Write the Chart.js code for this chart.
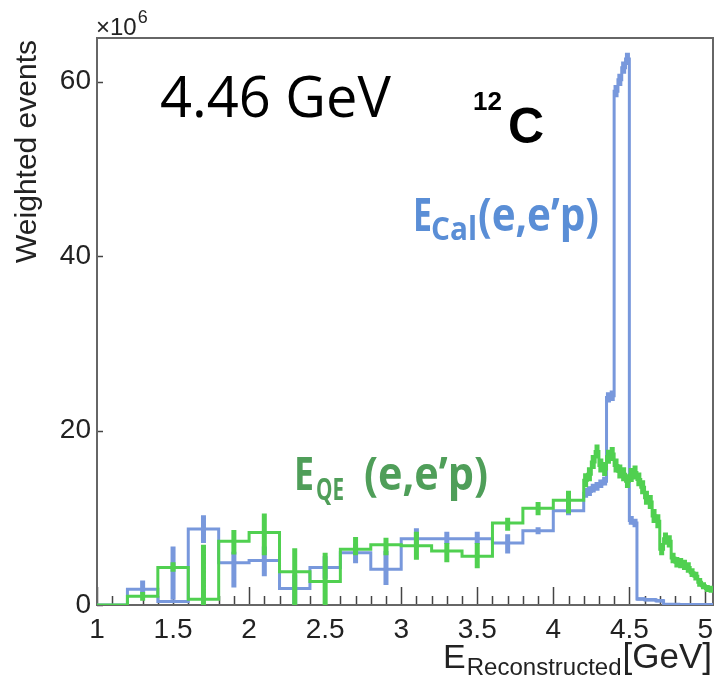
<!DOCTYPE html>
<html>
<head>
<meta charset="utf-8">
<script src="https://cdn.jsdelivr.net/npm/chart.js@4.4.1/dist/chart.umd.min.js"></script>
<style>
  html, body { margin: 0; padding: 0; background: #fff; }
  canvas { display: block; }
</style>
</head>
<body>
<canvas id="histChart" width="715" height="679"></canvas>
<script>
// bin edges in GeV: 0.2 GeV bins up to 4.2, then 0.025 GeV bins
const binEdges = [1.0, 1.2, 1.4, 1.6, 1.8, 2.0, 2.2, 2.4, 2.6, 2.8, 3.0, 3.2, 3.4, 3.6, 3.8, 4.0, 4.2,
  4.225, 4.25, 4.275, 4.3, 4.325, 4.35, 4.375, 4.4, 4.425, 4.45, 4.475, 4.5, 4.525, 4.55, 4.575, 4.6,
  4.625, 4.65, 4.675, 4.7, 4.725, 4.75, 4.775, 4.8, 4.825, 4.85, 4.875, 4.9, 4.925, 4.95, 4.975, 5.0,
  5.025, 5.05];

// E_Cal (e,e'p), x10^6 weighted events
const blueValues = [0, 1.8, 0.4, 8.7, 4.85, 5.1, 1.9, 4.3, 6.0, 4.1, 7.6, 7.6, 7.6, 7.1, 8.5, 10.8,
  12.8, 13.0, 13.4, 13.6, 13.9, 14.2, 23.8, 24.0, 58.9, 60.2, 61.6, 62.6, 9.7, 9.4,
  0.7, 0.7, 0.6, 0.6, 0.6, 0.5, 0.5, 0.1, 0.1, 0.1, 0.1,
  0.05, 0.05, 0.05, 0.05, 0.05, 0.05, 0.05, 0.05, 0.05];
const blueErrLo = [0, 1.3, 0.6, 7.1, 2.0, 3.3, 0, 3.0, 4.8, 2.3, 7.0, 7.0, 7.0, 5.9, 8.1, 10.3,
  12.3, 12.5, 12.9, 13.1, 13.4, 13.7, 23.2, 23.4, 58.2, 59.5, 60.9, 61.9, 9.2, 8.9,
  0.5, 0.5, 0.4, 0.4, 0.4, 0.3, 0.3, 0, 0, 0, 0,
  0, 0, 0, 0, 0, 0, 0, 0, 0];
const blueErrHi = [0, 2.8, 6.7, 10.3, 6.1, 6.7, 3.5, 5.6, 7.0, 6.2, 8.8, 8.4, 8.4, 8.1, 8.9, 11.2,
  13.4, 13.6, 13.9, 14.1, 14.4, 14.7, 24.4, 24.6, 59.6, 60.9, 62.3, 63.3, 10.2, 9.9,
  0.9, 0.9, 0.8, 0.8, 0.8, 0.7, 0.7, 0.2, 0.2, 0.2, 0.2,
  0.1, 0.1, 0.1, 0.1, 0.1, 0.1, 0.1, 0.1, 0.1];

// E_QE (e,e'p)
const greenValues = [0, 1.0, 4.3, 0.65, 7.3, 8.3, 3.8, 2.7, 6.4, 6.9, 6.8, 6.2, 5.6, 9.4, 11.1, 12.0,
  14.3, 15.0, 16.4, 17.6, 16.0, 15.6, 17.0, 17.3, 16.0, 15.3, 15.0, 14.2, 14.9, 15.2, 14.4,
  13.5, 12.3, 11.8, 10.2, 9.6, 6.4, 7.6, 7.3, 5.4, 4.9, 4.8, 4.6, 4.3, 3.7, 3.3, 2.6, 2.2, 1.9, 1.8];
const greenErrLo = [0, 0.5, 3.8, 0, 5.8, 5.7, 0, 0, 5.7, 5.7, 5.2, 4.9, 4.2, 8.5, 10.3, 10.5,
  13.5, 14.2, 15.6, 16.8, 15.2, 14.8, 16.2, 16.5, 15.2, 14.5, 14.2, 13.4, 14.1, 14.4, 13.6,
  12.7, 11.5, 11.0, 9.4, 8.8, 5.7, 6.9, 6.6, 4.8, 4.3, 4.2, 4.0, 3.7, 3.2, 2.8, 2.1, 1.8, 1.5, 1.4];
const greenErrHi = [0, 1.5, 4.9, 6.9, 8.6, 10.5, 6.5, 6.0, 7.8, 7.7, 8.4, 7.1, 7.1, 10.0, 11.8, 13.1,
  15.1, 15.8, 17.2, 18.4, 16.8, 16.4, 17.8, 18.1, 16.8, 16.1, 15.8, 15.0, 15.7, 16.0, 15.2,
  14.3, 13.1, 12.6, 11.0, 10.4, 7.1, 8.3, 8.0, 6.0, 5.5, 5.4, 5.2, 4.9, 4.2, 3.8, 3.1, 2.6, 2.3, 2.2];

const xTicks = [1, 1.5, 2, 2.5, 3, 3.5, 4, 4.5, 5];
const yTicks = [0, 20, 40, 60];

const blueColor = "#7898dc";
const greenColor = "#50d050";

function histPoints(values) {
  const pts = values.map((v, i) => ({ x: binEdges[i], y: v }));
  pts.push({ x: binEdges[values.length], y: values[values.length - 1] });
  return pts;
}

function errPoints(lo, hi) {
  const pts = [];
  lo.forEach((l, i) => {
    const c = (binEdges[i] + binEdges[i + 1]) / 2;
    pts.push({ x: c, y: l }, { x: c, y: hi[i] }, { x: c, y: null });
  });
  return pts;
}

// draws text and returns its width
function putText(ctx, str, x, y, font, color, align, maxWidth) {
  ctx.font = font;
  ctx.fillStyle = color;
  ctx.textAlign = align || "left";
  ctx.textBaseline = "alphabetic";
  if (maxWidth) ctx.fillText(str, x, y, maxWidth);
  else ctx.fillText(str, x, y);
  const w = ctx.measureText(str).width;
  return maxWidth ? Math.min(w, maxWidth) : w;
}

// frame + inner ticks (ROOT style) and the labels on the pad
const rootFrame = {
  id: "rootFrame",
  beforeDatasetsDraw(chart) {
    const { ctx, chartArea: a, scales: { x, y } } = chart;
    ctx.save();
    ctx.strokeStyle = "#444";
    ctx.lineWidth = 1.5;
    ctx.beginPath();
    for (let i = 10; i <= 50; i++) {
      const px = Math.round(x.getPixelForValue(i / 10)) + 0.5;
      const len = i % 5 === 0 ? 18 : 9;
      ctx.moveTo(px, a.bottom);
      ctx.lineTo(px, a.bottom - len);
    }
    yTicks.forEach((t) => {
      const py = Math.round(y.getPixelForValue(t)) + 0.5;
      ctx.moveTo(a.left, py);
      ctx.lineTo(a.left + 6, py);
    });
    ctx.stroke();
    ctx.strokeStyle = "#666";
    ctx.lineWidth = 2;
    ctx.strokeRect(a.left, a.top, a.right - a.left, a.bottom - a.top);
    ctx.restore();
  },
  afterDraw(chart) {
    const ctx = chart.ctx;
    const ink = "#222";
    ctx.save();
    // axis multiplier
    const w10 = putText(ctx, "×10", 96, 35, "24px 'Liberation Sans'", ink);
    putText(ctx, "6", 96 + w10 + 1, 23, "18px 'Liberation Sans'", ink);
    // y title
    ctx.save();
    ctx.translate(36, 40);
    ctx.rotate(-Math.PI / 2);
    ctx.font = "30px 'Liberation Sans'";
    ctx.fillStyle = ink;
    ctx.textAlign = "right";
    ctx.fillText("Weighted events", 0, 0);
    ctx.restore();
    // x title, right aligned to the axis end
    const wGev = putText(ctx, "[GeV]", 712, 668, "35px 'Liberation Sans'", ink, "right");
    const wSub = putText(ctx, "Reconstructed", 712 - wGev - 1, 675, "24px 'Liberation Sans'", ink, "right");
    putText(ctx, "E", 712 - wGev - wSub - 2, 668, "34px 'Liberation Sans'", ink, "right");
    // beam energy and target
    putText(ctx, "4.46 GeV", 160, 117, "56px 'Open Sans'", "#000", "left", 234);
    putText(ctx, "12", 473, 110, "bold 26px 'Liberation Sans'", "#000");
    putText(ctx, "C", 508, 143, "bold 50px 'Liberation Sans'", "#000");
    // series labels
    const blueText = "#5a8ed6";
    putText(ctx, "E", 413, 231, "bold 46px 'Open Sans'", blueText, "left", 19);
    putText(ctx, "Cal", 431, 240, "bold 33px 'Open Sans'", blueText, "left", 46);
    putText(ctx, "(e,e’p)", 478, 231, "bold 46px 'Open Sans'", blueText, "left", 121);
    const greenText = "#4f9e59";
    putText(ctx, "E", 294, 490, "bold 46px 'Open Sans'", greenText, "left", 20);
    putText(ctx, "QE", 316, 500, "bold 30px 'Open Sans'", greenText, "left", 28);
    putText(ctx, "(e,e’p)", 364, 490, "bold 46px 'Open Sans'", greenText, "left", 124);
    ctx.restore();
  }
};

const tickFont = { family: "Liberation Sans", size: 28 };

new Chart(document.getElementById("histChart").getContext("2d"), {
  type: "line",
  data: {
    datasets: [
      {
        label: "E_QE errors",
        data: errPoints(greenErrLo, greenErrHi),
        borderColor: greenColor,
        borderWidth: 5,
        borderCapStyle: "butt",
        pointRadius: 0,
        spanGaps: false,
        order: 0,
      },
      {
        label: "E_QE (e,e'p)",
        data: histPoints(greenValues),
        borderColor: greenColor,
        borderWidth: 3,
        stepped: true,
        pointRadius: 0,
        order: 1,
      },
      {
        label: "E_Cal errors",
        data: errPoints(blueErrLo, blueErrHi),
        borderColor: blueColor,
        borderWidth: 5,
        borderCapStyle: "butt",
        pointRadius: 0,
        spanGaps: false,
        order: 2,
      },
      {
        label: "E_Cal (e,e'p)",
        data: histPoints(blueValues),
        borderColor: blueColor,
        borderWidth: 3,
        stepped: true,
        pointRadius: 0,
        order: 3,
      },
    ],
  },
  options: {
    responsive: false,
    animation: false,
    devicePixelRatio: 1,
    layout: { padding: { top: 38, right: 2, left: 0, bottom: 0 } },
    plugins: {
      legend: { display: false },
      tooltip: { enabled: false },
    },
    scales: {
      x: {
        type: "linear",
        min: 1,
        max: 5.05,
        grid: { display: false, drawTicks: false },
        border: { display: false },
        afterBuildTicks: (scale) => { scale.ticks = xTicks.map((v) => ({ value: v })); },
        ticks: {
          autoSkip: false, maxRotation: 0, padding: 8, color: "#222", font: tickFont,
          callback: (v) => String(v),
        },
        afterFit: (scale) => {
          scale.height = 74;
          scale.paddingLeft = 0;
          scale.paddingRight = 0;
        },
      },
      y: {
        type: "linear",
        min: 0,
        max: 65,
        grid: { display: false, drawTicks: false },
        border: { display: false },
        afterBuildTicks: (scale) => { scale.ticks = yTicks.map((v) => ({ value: v })); },
        ticks: { padding: 6, color: "#222", font: tickFont, callback: (v) => String(v) },
        afterFit: (scale) => {
          scale.width = 97;
          scale.paddingTop = 0;
          scale.paddingBottom = 0;
        },
      },
    },
  },
  plugins: [rootFrame],
});
</script>
</body>
</html>
